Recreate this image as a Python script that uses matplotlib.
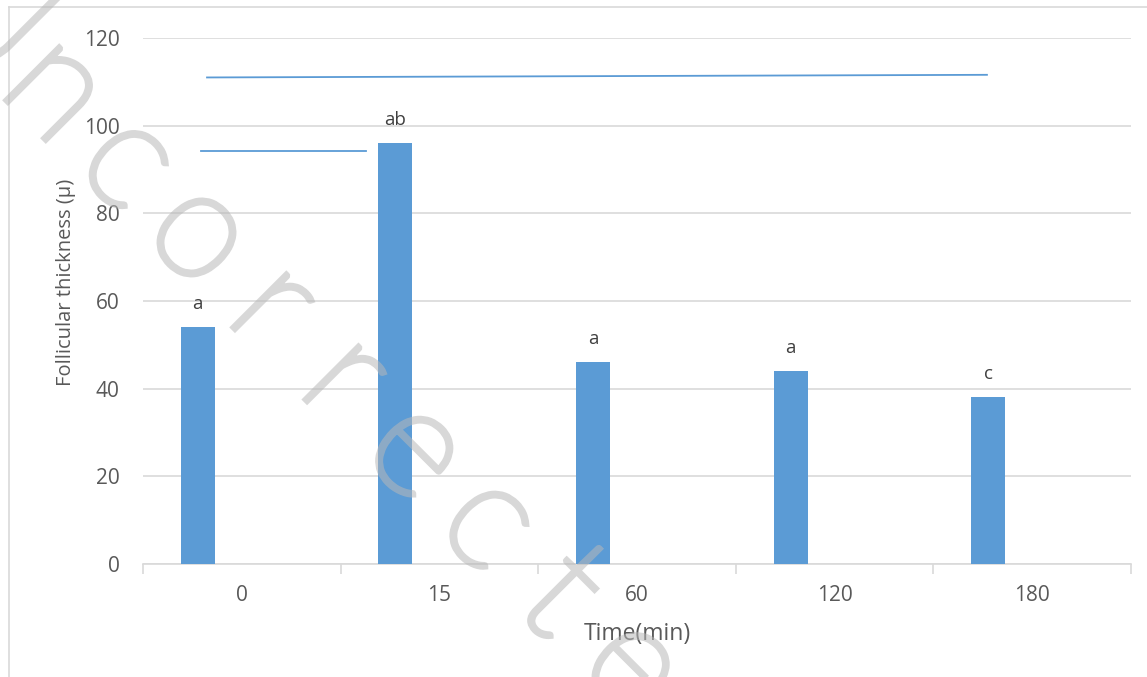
import numpy as np
import matplotlib.pyplot as plt
import matplotlib.patheffects as pe
from matplotlib.lines import Line2D

# data
times = ['0', '15', '60', '120', '180']
thickness = [54, 96, 46, 44, 38]
letters = ['a', 'ab', 'a', 'a', 'c']

# significance bracket lines (x in category units, y in data units)
line_short_x = [-0.206, 0.629]
line_short_y = [94.2, 94.2]
line_long_x = [-0.176, 3.771]
line_long_y = [111.0, 111.6]

watermark = 'Uncorrected'

bar_color = '#5B9BD5'
text_color = '#595959'
grid_color = '#D9D9D9'
font = 'Open Sans'

W, H = 1147, 677
fig = plt.figure(figsize=(W / 100, H / 100), dpi=100)
ax = fig.add_axes([143 / W, 1 - 564 / H, (1131 - 143) / W, (564 - 38) / H])

x = np.arange(len(times))
ax.bar(x - 0.223, thickness, width=0.172, color=bar_color, zorder=3)

for xi, v, lab in zip(x, thickness, letters):
    ax.text(xi - 0.223, v + 4.2, lab, ha='center', va='baseline',
            fontsize=13.5, color='#404040', family=font, zorder=4)

ax.plot(line_short_x, line_short_y, color=bar_color, lw=1.3, zorder=4, clip_on=False)
ax.plot(line_long_x, line_long_y, color=bar_color, lw=1.3, zorder=4, clip_on=False)

ax.set_xlim(-0.5, 4.5)
ax.set_ylim(0, 120)
ax.set_yticks(np.arange(0, 121, 20))
ax.yaxis.grid(True, color=grid_color, lw=1.2, zorder=0)
ax.set_axisbelow(True)

ax.set_xticks(x)
ax.set_xticklabels(times)
ax.set_xticks(np.arange(-0.5, 5, 1), minor=True)
ax.tick_params(axis='x', which='major', length=0, pad=15, labelsize=15, labelcolor=text_color)
ax.tick_params(axis='x', which='minor', length=7, width=1.2, color=grid_color)
ax.tick_params(axis='y', length=0, pad=17, labelsize=15, labelcolor=text_color)
for lab in ax.get_xticklabels() + ax.get_yticklabels():
    lab.set_family(font)

for s in ['top', 'right', 'left']:
    ax.spines[s].set_visible(False)
ax.spines['bottom'].set_color(grid_color)
ax.spines['bottom'].set_linewidth(1.2)

fig.text(66 / W, 1 - 282 / H, 'Follicular thickness (µ)', rotation=90,
         ha='center', va='center', fontsize=14.5, color=text_color, family=font)
fig.text(637 / W, 1 - 634 / H, 'Time(min)', ha='center', va='center',
         fontsize=16.5, color=text_color, family=font)

# chart frame (left and top edges visible)
fig.add_artist(Line2D([9 / W, 9 / W], [0, 1 - 7 / H], transform=fig.transFigure,
                      color=grid_color, lw=1.2))
fig.add_artist(Line2D([9 / W, 1], [1 - 7 / H, 1 - 7 / H], transform=fig.transFigure,
                      color=grid_color, lw=1.2))

# watermark: thin letters spaced along the diagonal, drawn as a see-through stroke
ang = np.deg2rad(45)
step = 102
ox, oy = 197, 237          # centre of the 'o' (4th letter), pixels from top-left
em = 152
up = 0.25 * em
for i, ch in enumerate(watermark):
    cx = ox + (i - 3) * step * np.cos(ang)
    cy = oy + (i - 3) * step * np.sin(ang)
    # move from x-height centre down to the baseline
    bx = cx - up * np.sin(ang)
    by = cy + up * np.cos(ang)
    fig.text(bx / W, 1 - by / H, ch, rotation=-45, rotation_mode='anchor',
             ha='center', va='baseline', fontsize=em * 0.72, fontweight='light',
             family='Lato', color=(0.75, 0.75, 0.75, 0.0), zorder=10,
             path_effects=[pe.Stroke(linewidth=4.5, foreground=(0.72, 0.72, 0.72, 0.55),
                                     capstyle='butt', joinstyle='miter')])

fig.savefig('out.png', dpi=100)
